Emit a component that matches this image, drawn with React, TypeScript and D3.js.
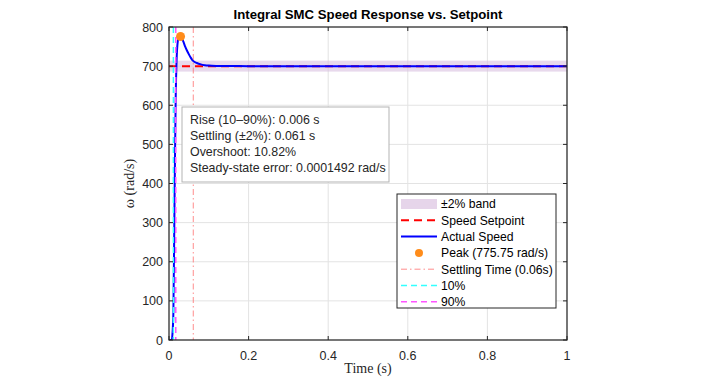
import React from 'react';
import * as d3 from 'd3';

// response samples
const timeS = [0, 0.007, 0.009, 0.011, 0.013, 0.015, 0.017, 0.019, 0.021, 0.024, 0.029, 0.033, 0.037, 0.041, 0.045, 0.05, 0.055, 0.06, 0.07, 0.08, 0.09, 0.1, 0.12, 0.15, 0.2, 0.3, 0.5, 0.7, 1.0];
const speed = [0, 0, 20, 70, 260, 460, 630, 712, 752, 771, 775.75, 770, 760, 749, 740, 730, 721, 714, 708, 704.5, 702.5, 701.4, 700.5, 700.1, 700, 700, 700, 700, 700];

const setpoint = 700;
const bandPct = 0.02;
const peak = { t: 0.029, v: 775.75 };
const settlingT = 0.061;
const t10 = 0.011;
const t90 = 0.017;

const xTicks = [0, 0.2, 0.4, 0.6, 0.8, 1];
const yTicks = [0, 100, 200, 300, 400, 500, 600, 700, 800];

const statsLines = [
  'Rise (10\u201390%): 0.006 s',
  'Settling (\u00b12%): 0.061 s',
  'Overshoot: 10.82%',
  'Steady-state error: 0.0001492 rad/s',
];

const legendItems = [
  { label: '\u00b12% band', kind: 'band' },
  { label: 'Speed Setpoint', kind: 'line', color: '#ff0000', width: 2, dash: '8 5' },
  { label: 'Actual Speed', kind: 'line', color: '#0000ff', width: 2, dash: '' },
  { label: 'Peak (775.75 rad/s)', kind: 'dot' },
  { label: 'Settling Time (0.06s)', kind: 'line', color: '#ff7070', width: 0.8, dash: '6 3 1.5 3' },
  { label: '10%', kind: 'line', color: '#33ffff', width: 1.5, dash: '6 4' },
  { label: '90%', kind: 'line', color: '#ff55ff', width: 1.5, dash: '6 4' },
];

const W = 718;
const H = 381;
const left = 169;
const right = 567;
const top = 27;
const bottom = 340;
const sans = '"Liberation Sans", Arial, sans-serif';
const serif = '"Liberation Serif", "DejaVu Serif", serif';
const axisColor = '#262626';

const App = () => {
  const x = d3.scaleLinear().domain([0, 1]).range([left, right]);
  const y = d3.scaleLinear().domain([0, 800]).range([bottom, top]);

  const line = d3
    .line<number>()
    .x((_, i) => x(timeS[i]))
    .y((d) => y(d))
    .curve(d3.curveMonotoneX);

  const bandHi = setpoint * (1 + bandPct);
  const bandLo = setpoint * (1 - bandPct);

  const legX = 397;
  const legY = 194;
  const legW = 159;
  const legRow = 16.3;

  return (
    <svg width={W} height={H} style={{ position: 'absolute', left: 0, top: 0, background: '#fff' }}>
      <rect x={0} y={0} width={W} height={H} fill="#fff" />
      <defs>
        <clipPath id="plotClip">
          <rect x={left} y={top} width={right - left} height={bottom - top} />
        </clipPath>
      </defs>

      {/* grid */}
      {xTicks.map((t) => (
        <line key={'gx' + t} x1={x(t)} x2={x(t)} y1={top} y2={bottom} stroke="#e3e3e3" strokeWidth={1} />
      ))}
      {yTicks.map((v) => (
        <line key={'gy' + v} x1={left} x2={right} y1={y(v)} y2={y(v)} stroke="#e3e3e3" strokeWidth={1} />
      ))}

      <g clipPath="url(#plotClip)">
        {/* ±2% band */}
        <rect x={x(0)} width={x(1) - x(0)} y={y(bandHi)} height={y(bandLo) - y(bandHi)} fill="#d9bfe0" fillOpacity={0.6} />
        {/* setpoint */}
        <line x1={x(0)} x2={x(1)} y1={y(setpoint)} y2={y(setpoint)} stroke="#ff0000" strokeWidth={2} strokeDasharray="8 5" />
        {/* actual speed */}
        <path d={line(speed) || ''} fill="none" stroke="#0000ff" strokeWidth={2} />
        {/* settling, 10%, 90% markers */}
        <line x1={x(settlingT)} x2={x(settlingT)} y1={top} y2={bottom} stroke="#ff7070" strokeWidth={0.8} strokeDasharray="6 3 1.5 3" />
        <line x1={x(t10)} x2={x(t10)} y1={top} y2={bottom} stroke="#33ffff" strokeWidth={1.5} strokeDasharray="6 4" />
        <line x1={x(t90)} x2={x(t90)} y1={top} y2={bottom} stroke="#ff55ff" strokeWidth={1.5} strokeDasharray="6 4" />
        <circle cx={x(peak.t)} cy={y(peak.v)} r={4.5} fill="#ff8c1a" />
      </g>

      {/* axes box */}
      <rect x={left} y={top} width={right - left} height={bottom - top} fill="none" stroke={axisColor} strokeWidth={1.2} />
      {xTicks.map((t) => (
        <g key={'tx' + t}>
          <line x1={x(t)} x2={x(t)} y1={bottom} y2={bottom - 4} stroke={axisColor} />
          <line x1={x(t)} x2={x(t)} y1={top} y2={top + 4} stroke={axisColor} />
          <text x={x(t)} y={360} textAnchor="middle" fontFamily={sans} fontSize={12.5} fill={axisColor}>
            {d3.format('~g')(t)}
          </text>
        </g>
      ))}
      {yTicks.map((v) => (
        <g key={'ty' + v}>
          <line x1={left} x2={left + 4} y1={y(v)} y2={y(v)} stroke={axisColor} />
          <line x1={right} x2={right - 4} y1={y(v)} y2={y(v)} stroke={axisColor} />
          <text x={163} y={y(v) + 4.5} textAnchor="end" fontFamily={sans} fontSize={12.5} fill={axisColor}>
            {v}
          </text>
        </g>
      ))}

      {/* labels */}
      <text x={368} y={19} textAnchor="middle" fontFamily={sans} fontWeight="bold" fontSize={13.2} fill="#000">
        Integral SMC Speed Response vs. Setpoint
      </text>
      <text x={368} y={373} textAnchor="middle" fontFamily={serif} fontSize={14} fill={axisColor}>
        Time (s)
      </text>
      <text transform={`translate(134,${(top + bottom) / 2}) rotate(-90)`} textAnchor="middle" fontFamily={serif} fontSize={14} fill={axisColor}>
        ω (rad/s)
      </text>

      {/* stats box */}
      <rect x={182} y={107} width={207} height={75} fill="#fff" stroke="#b3b3b3" strokeWidth={1} />
      {statsLines.map((s, i) => (
        <text key={s} x={190} y={124 + i * 16} fontFamily={sans} fontSize={12.4} fill="#262626">
          {s}
        </text>
      ))}

      {/* legend */}
      <rect x={legX} y={legY} width={legW} height={114} fill="#fff" stroke={axisColor} strokeWidth={1} />
      {legendItems.map((it, i) => {
        const cy = legY + 10 + i * legRow;
        return (
          <g key={it.label}>
            {it.kind === 'band' && <rect x={401} y={cy - 5} width={36} height={10} fill="#e6d5ea" />}
            {it.kind === 'line' && (
              <line x1={401} x2={437} y1={cy} y2={cy} stroke={it.color} strokeWidth={it.width} strokeDasharray={it.dash} />
            )}
            {it.kind === 'dot' && <circle cx={419} cy={cy} r={4} fill="#ff8c1a" />}
            <text x={441} y={cy + 4.3} fontFamily={sans} fontSize={12.2} fill="#000">
              {it.label}
            </text>
          </g>
        );
      })}
    </svg>
  );
};

export default App;
